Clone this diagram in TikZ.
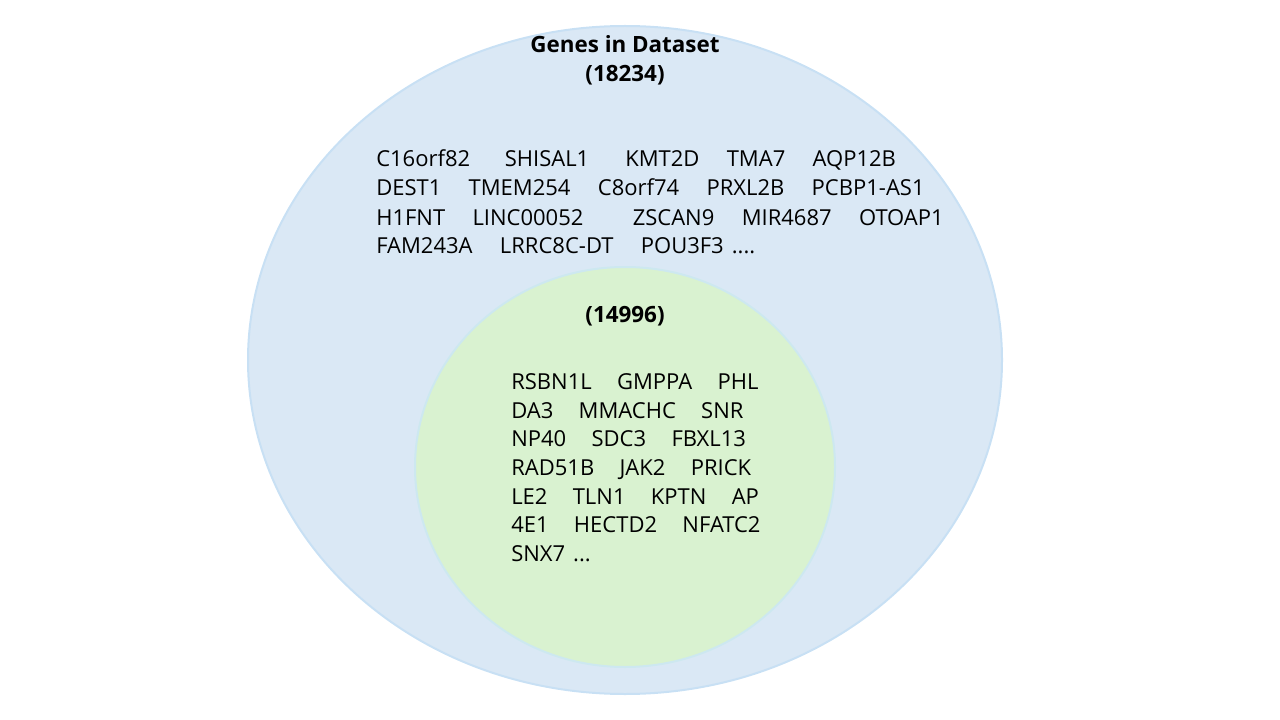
\documentclass[tikz,border=0pt]{standalone}
\usepackage{fontspec}
\setmainfont{Open Sans}
\usepackage{tikz}
\newcommand{\ogap}{\hspace{20.5pt}}
\newcommand{\igap}{\hspace{19pt}}

\begin{document}
\begin{tikzpicture}[x=0.75pt,y=0.75pt,yscale=-1,xscale=1,
  genes/.style={anchor=base west,inner sep=0pt,font=\fontsize{16.5}{20}\selectfont},
  heading/.style={anchor=base,inner sep=0pt,font=\fontsize{16.8}{20}\selectfont\bfseries}]
\useasboundingbox (0,0) rectangle (1280,720);

%Shape: Ellipse [all genes]
\draw [color={rgb, 255:red, 200; green, 224; blue, 244 }, fill={rgb, 255:red, 218; green, 232; blue, 245 }, line width=1.5] (625,360) ellipse (377 and 334);
%Shape: Ellipse [common genes]
\draw [color={rgb, 255:red, 205; green, 232; blue, 240 }, fill={rgb, 255:red, 217; green, 242; blue, 208 }, line width=1.5] (625,467) ellipse (210 and 200);

% Text Node
\draw (625,53) node [heading] (title) {Genes in Dataset};
% Text Node
\draw (625,82) node [heading] (total) {(18234)};
% Text Node
\draw (376,167) node [genes] (outer1) {C16orf82\hspace{26pt}SHISAL1\hspace{27pt}KMT2D\ogap TMA7\ogap AQP12B};
% Text Node
\draw (376,196) node [genes] (outer2) {DEST1\ogap TMEM254\ogap C8orf74\ogap PRXL2B\ogap PCBP1-AS1};
% Text Node
\draw (376,225) node [genes] (outer3) {H1FNT\ogap LINC00052\hspace{37pt}ZSCAN9\ogap MIR4687\ogap OTOAP1};
% Text Node
\draw (376,253) node [genes] (outer4) {FAM243A\ogap LRRC8C-DT\ogap POU3F3\hspace{6pt}....};

% Text Node
\draw (625,322) node [heading] (common) {(14996)};
% Text Node
\draw (511,389) node [genes] (inner1) {RSBN1L\igap GMPPA\igap PHL};
% Text Node
\draw (511,418) node [genes] (inner2) {DA3\igap MMACHC\igap SNR};
% Text Node
\draw (511,446) node [genes] (inner3) {NP40\igap SDC3\igap FBXL13};
% Text Node
\draw (511,475) node [genes] (inner4) {RAD51B\igap JAK2\igap PRICK};
% Text Node
\draw (511,504) node [genes] (inner5) {LE2\igap TLN1\igap KPTN\igap AP};
% Text Node
\draw (511,532) node [genes] (inner6) {4E1\igap HECTD2\igap NFATC2};
% Text Node
\draw (511,561) node [genes] (inner7) {SNX7\hspace{6pt}...};

\end{tikzpicture}
\end{document}
